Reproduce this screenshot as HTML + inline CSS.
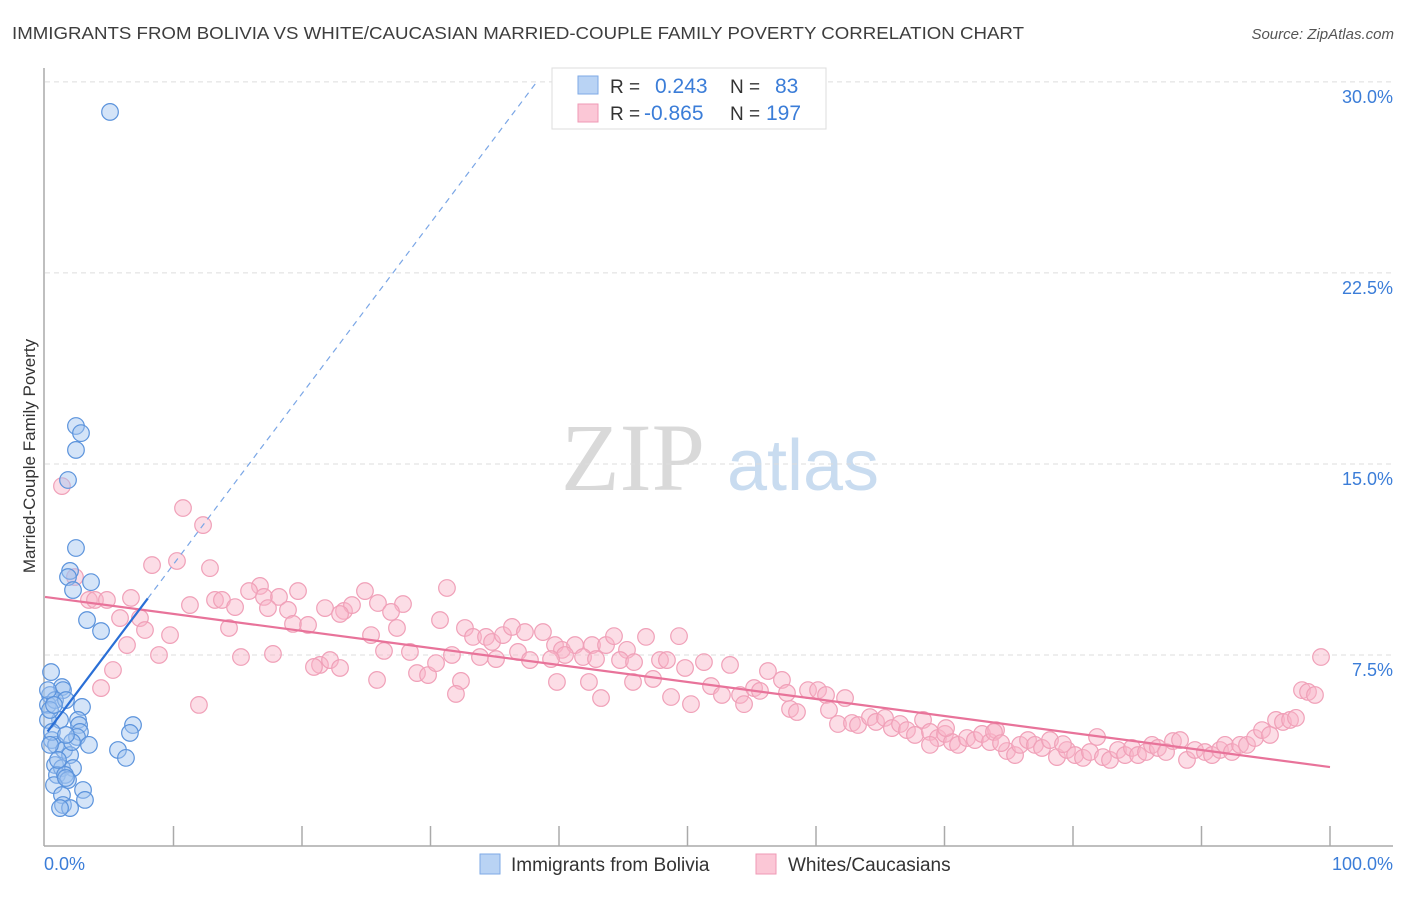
<!DOCTYPE html>
<html><head><meta charset="utf-8"><style>
body{margin:0;background:#fff;font-family:"Liberation Sans",sans-serif;}
svg text{font-family:"Liberation Sans",sans-serif;}
</style></head><body>
<svg id="chart" width="1406" height="892" viewBox="0 0 1406 892" xmlns="http://www.w3.org/2000/svg">
<text x="12" y="39" font-size="17.5" fill="#3d3d3d" textLength="1012" lengthAdjust="spacingAndGlyphs">IMMIGRANTS FROM BOLIVIA VS WHITE/CAUCASIAN MARRIED-COUPLE FAMILY POVERTY CORRELATION CHART</text>
<text x="1394" y="39" font-size="15" fill="#555" text-anchor="end" font-style="italic">Source: ZipAtlas.com</text>
<g>
<text x="633" y="490" font-size="96" fill="#d9d9d9" text-anchor="middle" font-family="Liberation Serif" style="font-family:'Liberation Serif',serif">ZIP</text>
<text x="803" y="490" font-size="72" fill="#c9dcf0" text-anchor="middle">atlas</text>
</g>
<g id="grid"></g>
<g id="axes"></g>
<g id="pts"></g>
<g id="trends"></g>
<text transform="translate(35,456) rotate(-90)" font-size="17" fill="#333" text-anchor="middle">Married-Couple Family Poverty</text>
<g>
<rect x="552" y="68" width="274" height="61" fill="#fff" stroke="#ddd"/>
<rect x="578" y="76" width="20" height="18" fill="#b9d3f4" stroke="#7eaae6"/>
<rect x="578" y="104" width="20" height="18" fill="#fbc7d6" stroke="#ef9ab5"/>
<text x="610" y="93" font-size="19" fill="#333">R =</text>
<text x="655" y="93" font-size="21" fill="#3b7dd8">0.243</text>
<text x="730" y="93" font-size="19" fill="#333">N =</text>
<text x="775" y="93" font-size="21" fill="#3b7dd8">83</text>
<text x="610" y="120" font-size="19" fill="#333">R =</text>
<text x="644" y="120" font-size="21" fill="#3b7dd8">-0.865</text>
<text x="730" y="120" font-size="19" fill="#333">N =</text>
<text x="766" y="120" font-size="21" fill="#3b7dd8">197</text>
</g>
<g>
<rect x="480" y="854" width="20" height="20" fill="#b9d3f4" stroke="#7eaae6"/>
<text x="511" y="871" font-size="19" fill="#333">Immigrants from Bolivia</text>
<rect x="756" y="854" width="20" height="20" fill="#fbc7d6" stroke="#ef9ab5"/>
<text x="788" y="871" font-size="19" fill="#333">Whites/Caucasians</text>
</g>
</svg>
<script>
const blueX=[5.06,2.41,2.80,2.41,1.79,2.41,1.95,1.79,3.58,2.18,3.27,4.36,0.47,1.32,1.40,0.39,0.23,0.78,1.63,2.88,2.57,2.65,2.72,2.49,1.17,6.85,6.61,0.54,0.86,3.42,1.48,1.95,5.68,6.30,0.78,1.32,2.18,0.93,1.56,1.79,0.70,2.96,1.32,3.11,1.40,1.95,1.17,0.23,0.39,0.54,1.01,2.10,1.63,0.23,0.70,0.39,1.63];
const blueY=[28.82,16.49,16.21,15.55,14.37,11.70,10.80,10.56,10.36,10.05,8.87,8.44,6.83,6.24,6.12,5.93,5.54,5.73,5.73,5.46,4.95,4.75,4.48,4.28,4.95,4.75,4.44,4.16,3.97,3.97,3.77,3.57,3.77,3.46,3.18,3.06,3.06,2.79,2.79,2.59,2.39,2.20,2.00,1.81,1.61,1.49,1.49,4.95,5.34,4.48,3.38,4.08,4.36,6.12,5.54,3.97,2.67];
const pinkX=[1.32,10.74,12.30,8.33,10.27,12.84,2.33,3.42,3.89,4.82,6.69,16.73,15.88,17.04,18.21,19.69,24.90,31.28,7.39,5.84,7.78,9.73,11.28,13.23,13.77,14.79,17.35,18.91,21.79,23.27,23.89,25.91,27.86,26.93,14.32,19.30,20.47,22.96,25.37,27.39,30.74,32.68,33.31,34.32,34.79,35.64,36.34,37.35,38.75,39.69,40.23,41.25,40.47,42.57,43.66,44.28,45.29,46.77,49.34,6.38,8.87,15.25,17.74,21.40,22.18,20.93,22.96,26.38,28.40,28.95,29.81,30.43,31.67,33.85,35.10,36.81,37.74,39.38,41.87,42.88,44.75,45.84,47.86,48.40,49.81,51.28,53.31,5.29,4.36,11.98,25.84,32.37,31.98,39.84,42.33,43.27,45.76,47.32,48.72,50.27,51.83,52.68,54.09,54.40,55.18,55.64,56.26,57.35,57.74,57.98,58.52,59.38,60.16,60.78,61.01,62.26,61.71,62.80,63.27,64.20,64.67,65.37,65.91,66.54,67.08,67.70,68.33,68.87,69.49,70.04,70.58,71.05,71.75,72.37,72.92,73.54,74.01,74.86,75.49,75.88,76.50,77.04,77.59,78.21,78.75,79.53,80.16,80.78,81.32,81.87,82.33,82.88,83.50,84.05,84.59,85.06,85.68,86.15,86.61,87.24,87.78,88.33,88.87,89.49,90.27,90.82,91.44,91.83,92.37,93.00,93.54,94.16,94.71,95.33,95.80,96.34,96.89,97.35,97.82,98.29,98.83,99.30,73.85,79.22,70.12,68.87,74.40];
const pinkY=[14.13,13.27,12.60,11.03,11.19,10.91,10.56,9.66,9.66,9.66,9.74,10.21,10.01,9.78,9.78,10.01,10.01,10.13,8.95,8.95,8.48,8.28,9.46,9.66,9.66,9.38,9.34,9.27,9.34,9.23,9.46,9.54,9.50,9.19,8.56,8.72,8.68,9.11,8.28,8.56,8.87,8.56,8.21,8.21,8.01,8.28,8.60,8.40,8.40,7.89,7.70,7.89,7.50,7.89,7.89,8.24,7.70,8.21,8.24,7.89,7.50,7.42,7.54,7.11,7.30,7.03,6.99,7.66,7.62,6.79,6.71,7.18,7.50,7.42,7.34,7.62,7.30,7.34,7.42,7.34,7.30,7.22,7.30,7.30,6.99,7.22,7.11,6.91,6.20,5.54,6.52,6.48,5.97,6.44,6.44,5.81,6.44,6.56,5.85,5.57,6.28,5.93,5.93,5.57,6.20,6.09,6.87,6.52,6.01,5.38,5.26,6.12,6.12,5.93,5.34,5.81,4.79,4.83,4.75,5.06,4.87,5.03,4.63,4.79,4.55,4.36,4.95,4.48,4.24,4.40,4.08,3.97,4.24,4.16,4.40,4.08,4.55,3.73,3.57,3.97,4.16,3.97,3.85,4.16,3.49,3.77,3.57,3.46,3.69,4.28,3.49,3.38,3.77,3.57,3.85,3.57,3.69,3.97,3.85,3.69,4.12,4.16,3.38,3.77,3.69,3.57,3.77,3.97,3.69,3.97,3.97,4.24,4.55,4.36,4.95,4.87,4.95,5.03,6.12,6.05,5.93,7.42,4.48,4.00,4.63,3.97,4.04];
const yTicks=[7.5,15,22.5,30];
const yTickLabels=["7.5%","15.0%","22.5%","30.0%"];
const xTicks=[0,10,20,30,40,50,60,70,80,90,100];
const blueTrend=[4.36,0.67];   // intercept, slope
const pinkTrend=[9.78,-0.0668];
const NS='http://www.w3.org/2000/svg';
const X=v=>45+v*12.85, Y=v=>846-v*25.47;
function mk(tag,attrs,parent){const e=document.createElementNS(NS,tag);for(const k in attrs)e.setAttribute(k,attrs[k]);document.getElementById(parent).appendChild(e);return e;}
yTicks.forEach((t,i)=>{
 const g=mk('line',{x1:45,x2:1393,y1:Y(t),y2:Y(t),stroke:'#ddd','stroke-dasharray':'5,4'},'grid');
 
 
 const l=mk('text',{x:1393,y:Y(t)+21,'font-size':18,fill:'#3b7dd8','text-anchor':'end'},'axes');
 l.textContent=yTickLabels[i];
 
 
});
let a=mk('line',{x1:44,x2:44,y1:68,y2:846,stroke:'#aaa','stroke-width':1.5},'axes');


a=mk('line',{x1:44,x2:1393,y1:846,y2:846,stroke:'#aaa','stroke-width':1.5},'axes');


xTicks.forEach(t=>{
 if(t===0)return;
 const k=mk('line',{x1:X(t),x2:X(t),y1:826,y2:846,stroke:'#aaa','stroke-width':1.5},'axes');
 
 
});
let t0=mk('text',{x:44,y:870,'font-size':18,fill:'#3b7dd8'},'axes');t0.textContent='0.0%';


t0=mk('text',{x:1393,y:870,'font-size':18,fill:'#3b7dd8','text-anchor':'end'},'axes');t0.textContent='100.0%';


pinkX.forEach((x,i)=>{
 const c=mk('circle',{cx:X(x),cy:Y(pinkY[i]),r:8.3,fill:'rgba(248,180,200,0.45)',stroke:'#f0a0b8','stroke-width':1.2},'pts');
 
 
});
blueX.forEach((x,i)=>{
 const c=mk('circle',{cx:X(x),cy:Y(blueY[i]),r:8.3,fill:'rgba(160,195,240,0.45)',stroke:'#5b93dc','stroke-width':1.2},'pts');
 
 
});
let ln=mk('line',{x1:X(0),y1:Y(pinkTrend[0]),x2:X(100),y2:Y(pinkTrend[0]+pinkTrend[1]*100),stroke:'#e8739a','stroke-width':2.2},'trends');


const bEnd=8, bMax=(30-blueTrend[0])/blueTrend[1];
ln=mk('line',{x1:X(0.2),y1:Y(blueTrend[0]+blueTrend[1]*0.2),x2:X(bEnd),y2:Y(blueTrend[0]+blueTrend[1]*bEnd),stroke:'#2a6fd6','stroke-width':2.2},'trends');


ln=mk('line',{x1:X(bEnd),y1:Y(blueTrend[0]+blueTrend[1]*bEnd),x2:X(bMax),y2:Y(30),stroke:'#7aa6e6','stroke-width':1.2,'stroke-dasharray':'6,5'},'trends');


</script>
</body></html>
